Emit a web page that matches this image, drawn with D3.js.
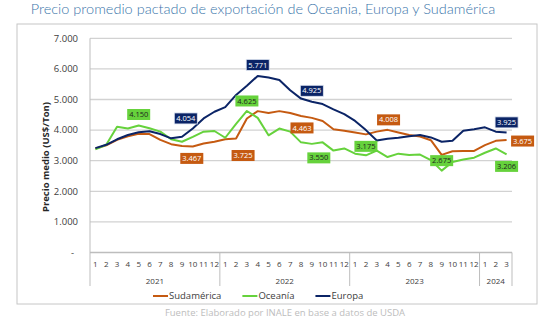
<!DOCTYPE html>
<html>
<head>
<meta charset="utf-8">
<script src="https://cdn.jsdelivr.net/npm/d3@7"></script>
<style>
  body { margin: 0; background: #fff; }
  svg { display: block; }
</style>
</head>
<body>
<div id="chart"></div>
<script>
// categories
const years = ["2021", "2022", "2023", "2024"];
const monthsInYear = [12, 12, 12, 3];

// monthly average price, US$/Ton
const sudamerica = [3400, 3500, 3680, 3800, 3880, 3870, 3680, 3540, 3480, 3467, 3560, 3620,
                    3700, 3725, 4380, 4620, 4560, 4620, 4560, 4463, 4400, 4300, 4030, 3980,
                    3920, 3860, 3950, 4008, 3920, 3840, 3790, 3670, 3190, 3310, 3320, 3320,
                    3510, 3650, 3675];
const oceania = [3370, 3520, 4110, 4050, 4150, 4060, 3950, 3700, 3620, 3780, 3950, 3970,
                 3750, 4200, 4625, 4400, 3830, 4050, 3950, 3600, 3550, 3600, 3330, 3400,
                 3230, 3175, 3330, 3120, 3230, 3190, 3200, 3020, 2675, 2960, 3040, 3100,
                 3260, 3400, 3206];
const europa = [3410, 3520, 3700, 3840, 3930, 3960, 3870, 3730, 3780, 4054, 4380, 4600,
                4750, 5150, 5450, 5771, 5720, 5640, 5300, 5030, 4925, 4850, 4680, 4520,
                4300, 4000, 3660, 3720, 3750, 3800, 3840, 3760, 3620, 3650, 3980, 4030,
                4090, 3950, 3925];

const seriesNames = ["Sudamérica", "Oceanía", "Europa"];
const seriesColors = ["#c55a11", "#66d23c", "#0b2466"];

// annotated points: series index, month index
const labelSeries = [1, 2, 0, 1, 0, 2, 0, 2, 1, 1, 0, 1, 2, 0, 1];
const labelMonth  = [4, 9, 9, 14, 13, 15, 19, 20, 20, 25, 27, 32, 38, 38, 38];
// label offsets from the point (layout only)
const labelDx = [0, -7, -1, 0, 7, 0, 1, 0, 7, 0, 1, 0, 0, 16, 0];
const labelDy = [-11, -10, 12, -10, 17, -11, 12, -11, 14, -9, -10, -10, -10, 1, 12];

const yTicks = [0, 1000, 2000, 3000, 4000, 5000, 6000, 7000];

const width = 550, height = 326;
const plot = { left: 90, right: 512, top: 38.3, bottom: 252.5 };

const months = [];
years.forEach((yr, k) => {
    for (let m = 1; m <= monthsInYear[k]; m++) months.push({ year: yr, month: m });
});
const values = [sudamerica, oceania, europa];

const locale = d3.formatLocale({ decimal: ",", thousands: ".", grouping: [3], currency: ["$", ""] });
const fmt = locale.format(",.0f");

const svg = d3.select("#chart").append("svg")
    .attr("width", width)
    .attr("height", height)
    .attr("font-family", "'Open Sans', sans-serif");

// title
svg.append("text")
    .attr("x", 263)
    .attr("y", 14)
    .attr("text-anchor", "middle")
    .attr("font-family", "Lato, sans-serif")
    .attr("font-weight", 300)
    .attr("font-size", 14.5)
    .attr("fill", "#3b76aa")
    .text("Precio promedio pactado de exportación de Oceania, Europa y Sudamérica");

// outer frame
svg.append("rect")
    .attr("x", 17).attr("y", 24)
    .attr("width", 520).attr("height", 280)
    .attr("fill", "white")
    .attr("stroke", "#c6c6c6");

let x = d3.scaleBand()
    .domain(d3.range(months.length))
    .range([plot.left, plot.right]);

let y = d3.scaleLinear()
    .domain([0, 7000])
    .range([plot.bottom, plot.top]);

// gridlines
svg.append("g")
    .selectAll("line")
    .data(yTicks.filter(d => d > 0))
    .join("line")
    .attr("x1", plot.left).attr("x2", plot.right)
    .attr("y1", d => y(d)).attr("y2", d => y(d))
    .attr("stroke", "#d2d2d2")
    .attr("stroke-width", 1.3);

// y tick labels
svg.append("g")
    .attr("font-size", 9.5)
    .attr("fill", "#404040")
    .selectAll("text")
    .data(yTicks)
    .join("text")
    .attr("x", d => d === 0 ? 74 : 78)
    .attr("y", d => y(d))
    .attr("dy", "0.35em")
    .attr("text-anchor", "end")
    .text(d => d === 0 ? "-" : fmt(d));

// y axis title
svg.append("text")
    .attr("transform", `translate(49,157) rotate(-90)`)
    .attr("text-anchor", "middle")
    .attr("font-size", 9.5)
    .attr("font-weight", "bold")
    .attr("fill", "#262626")
    .text("Precio medio (US$/Ton)");

// axes lines
const axisColor = "#bdbdbd";
svg.append("line")
    .attr("x1", plot.left).attr("x2", plot.left)
    .attr("y1", plot.top).attr("y2", 286)
    .attr("stroke", axisColor);
svg.append("line")
    .attr("x1", plot.left).attr("x2", plot.right)
    .attr("y1", plot.bottom).attr("y2", plot.bottom)
    .attr("stroke", axisColor)
    .attr("stroke-width", 1.3);

// year separators
let yearStarts = [];
let acc = 0;
monthsInYear.forEach(n => { yearStarts.push(acc); acc += n; });
const sepX = yearStarts.map(i => x(i)).concat([plot.right]);
svg.append("g")
    .selectAll("line")
    .data(sepX.slice(1))
    .join("line")
    .attr("x1", d => d).attr("x2", d => d)
    .attr("y1", plot.bottom).attr("y2", 286)
    .attr("stroke", axisColor);

// month labels
svg.append("g")
    .attr("font-size", 8)
    .attr("fill", "#404040")
    .attr("text-anchor", "middle")
    .selectAll("text")
    .data(months)
    .join("text")
    .attr("x", (d, i) => x(i) + x.bandwidth() / 2)
    .attr("y", 264)
    .attr("dy", "0.35em")
    .text(d => d.month);

// year labels
svg.append("g")
    .attr("font-size", 8)
    .attr("fill", "#404040")
    .attr("text-anchor", "middle")
    .selectAll("text")
    .data(years)
    .join("text")
    .attr("x", (d, k) => (sepX[k] + sepX[k + 1]) / 2)
    .attr("y", 281.5)
    .attr("dy", "0.35em")
    .text(d => d);

// lines
let line = d3.line()
    .x((d, i) => x(i) + x.bandwidth() / 2)
    .y(d => y(d));

svg.append("g")
    .attr("fill", "none")
    .selectAll("path")
    .data(values)
    .join("path")
    .attr("stroke", (d, i) => seriesColors[i])
    .attr("stroke-width", 2)
    .attr("stroke-linejoin", "round")
    .attr("d", d => line(d));

// data labels
const labels = svg.append("g")
    .attr("font-size", 7.5)
    .selectAll("g")
    .data(labelSeries.map((s, k) => ({ s, m: labelMonth[k], dx: labelDx[k], dy: labelDy[k] })))
    .join("g")
    .attr("transform", d => `translate(${x(d.m) + x.bandwidth() / 2 + d.dx},${y(values[d.s][d.m]) + d.dy})`);

labels.append("rect")
    .attr("x", -11.5).attr("y", -5.5)
    .attr("width", 23).attr("height", 11)
    .attr("fill", d => seriesColors[d.s])
    .attr("stroke", d => d.s === 2 ? "#dfe6f2" : "none")
    .attr("stroke-width", 0.8);

labels.append("text")
    .attr("text-anchor", "middle")
    .attr("dy", "0.35em")
    .attr("fill", d => d.s === 1 ? "#1f1f1f" : "white")
    .text(d => fmt(values[d.s][d.m]));

// legend
const legend = svg.append("g")
    .attr("font-size", 9.5)
    .attr("fill", "#404040");
let lx = 153;
seriesNames.forEach((name, i) => {
    legend.append("line")
        .attr("x1", lx).attr("x2", lx + 15)
        .attr("y1", 296).attr("y2", 296)
        .attr("stroke", seriesColors[i])
        .attr("stroke-width", 2);
    const t = legend.append("text")
        .attr("x", lx + 16)
        .attr("y", 296)
        .attr("dy", "0.35em")
        .text(name);
    lx += 16 + t.node().getComputedTextLength() + 21;
});

// source
svg.append("text")
    .attr("x", 285)
    .attr("y", 313)
    .attr("dy", "0.35em")
    .attr("text-anchor", "middle")
    .attr("font-size", 9.5)
    .attr("fill", "#bdbdbd")
    .text("Fuente: Elaborado por INALE en base a datos de USDA");
</script>
</body>
</html>
